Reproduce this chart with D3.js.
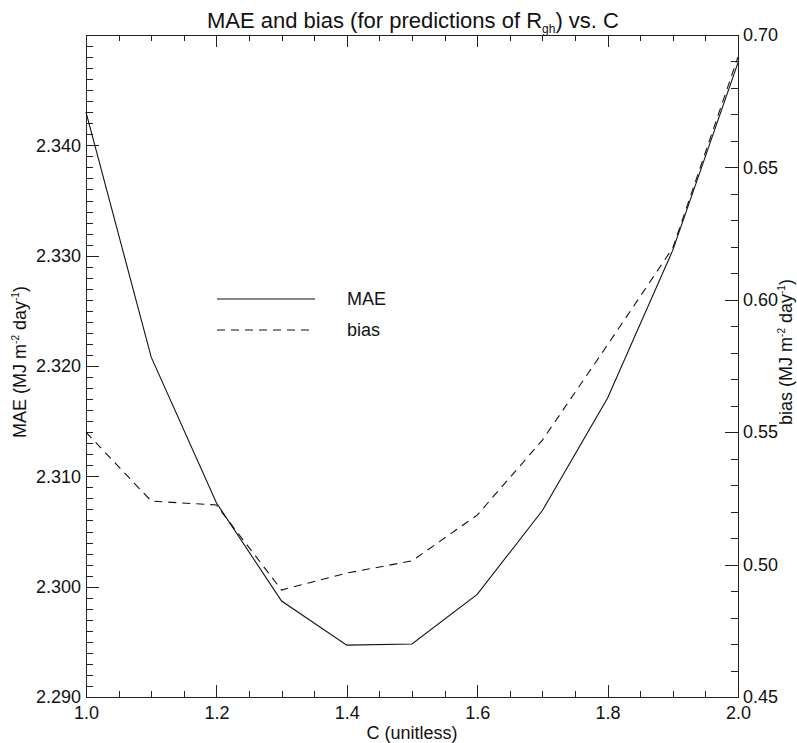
<!DOCTYPE html>
<html>
<head>
<meta charset="utf-8">
<script src="https://cdn.jsdelivr.net/npm/d3@7"></script>
<style>
  html, body { margin: 0; padding: 0; background: #fff; }
  svg { display: block; font-family: "Liberation Sans", Arial, Helvetica, sans-serif; }
  .axis path, .axis line { stroke: #222; stroke-width: 1; shape-rendering: crispEdges; }
  .axis text { font-size: 18px; fill: #111; }
</style>
</head>
<body>
<script>
// ---- data ----
const cValues = [1.0, 1.1, 1.2, 1.3, 1.4, 1.5, 1.6, 1.7, 1.8, 1.9, 2.0];
const maeValues = [2.3430, 2.3208, 2.3076, 2.2987, 2.2947, 2.2948, 2.2993, 2.3069, 2.3171, 2.3305, 2.3475];
const biasValues = [0.550, 0.524, 0.5225, 0.4904, 0.4968, 0.5014, 0.5187, 0.547, 0.583, 0.6196, 0.6917];
const xTicks = [1.0, 1.2, 1.4, 1.6, 1.8, 2.0];
const maeTicks = [2.290, 2.300, 2.310, 2.320, 2.330, 2.340];
const biasTicks = [0.45, 0.50, 0.55, 0.60, 0.65, 0.70];
const seriesNames = ["MAE", "bias"];

const W = 797, H = 743;
const pL = 86, pR = 738, pT = 35, pB = 697;

const svg = d3.select("body").append("svg").attr("width", W).attr("height", H);

const x = d3.scaleLinear().domain([1, 2]).range([pL, pR]);
const yL = d3.scaleLinear().domain([2.29, 2.35]).range([pB, pT]);
const yR = d3.scaleLinear().domain([0.45, 0.70]).range([pB, pT]);

const xMinor = d3.range(1.0, 2.0001, 0.05).map(v => +v.toFixed(2));
const yLMinor = d3.range(2.290, 2.3500001, 0.001).map(v => +v.toFixed(3)).filter(v => v < 2.35);
const yRMinor = d3.range(0.45, 0.70001, 0.01).map(v => +v.toFixed(2));

// bottom axis
svg.append("g").attr("class", "axis").attr("transform", `translate(0,${pB})`)
  .call(d3.axisBottom(x).tickValues(xMinor).tickSize(-6).tickFormat("")).call(g => g.select(".domain").remove());
svg.append("g").attr("class", "axis").attr("transform", `translate(0,${pB})`)
  .call(d3.axisBottom(x).tickValues(xTicks).tickSize(-12).tickPadding(9).tickSizeOuter(0).tickFormat(d3.format(".1f")));
// top axis
svg.append("g").attr("class", "axis").attr("transform", `translate(0,${pT})`)
  .call(d3.axisTop(x).tickValues(xMinor).tickSize(-6).tickFormat("")).call(g => g.select(".domain").remove());
svg.append("g").attr("class", "axis").attr("transform", `translate(0,${pT})`)
  .call(d3.axisTop(x).tickValues(xTicks).tickSize(-12).tickSizeOuter(0).tickFormat(""));
// left axis
svg.append("g").attr("class", "axis").attr("transform", `translate(${pL},0)`)
  .call(d3.axisLeft(yL).tickValues(yLMinor).tickSize(-7).tickFormat("")).call(g => g.select(".domain").remove());
svg.append("g").attr("class", "axis").attr("transform", `translate(${pL},0)`)
  .call(d3.axisLeft(yL).tickValues(maeTicks).tickSize(-13).tickPadding(5).tickSizeOuter(0).tickFormat(d3.format(".3f")));
// right axis
svg.append("g").attr("class", "axis").attr("transform", `translate(${pR},0)`)
  .call(d3.axisRight(yR).tickValues(yRMinor).tickSize(-7).tickFormat("")).call(g => g.select(".domain").remove());
svg.append("g").attr("class", "axis").attr("transform", `translate(${pR},0)`)
  .call(d3.axisRight(yR).tickValues(biasTicks).tickSize(-13).tickPadding(5).tickSizeOuter(0).tickFormat(d3.format(".2f")));

// lines
const maeLine = d3.line().x((d, i) => x(cValues[i])).y(d => yL(d));
const biasLine = d3.line().x((d, i) => x(cValues[i])).y(d => yR(d));
svg.append("path").datum(maeValues).attr("d", maeLine)
  .attr("fill", "none").attr("stroke", "#111").attr("stroke-width", 1.1);
svg.append("path").datum(biasValues).attr("d", biasLine)
  .attr("fill", "none").attr("stroke", "#111").attr("stroke-width", 1.1).attr("stroke-dasharray", "8,6");

// legend
const leg = svg.append("g");
[0, 1].forEach(i => {
  const ly = 299 + i * 31;
  leg.append("line").attr("x1", 217).attr("x2", i === 0 ? 315 : 309).attr("y1", ly).attr("y2", ly)
    .attr("stroke", "#111").attr("stroke-width", 1.1).attr("stroke-dasharray", i === 0 ? null : "8,6");
  leg.append("text").attr("x", 347).attr("y", ly + 6).attr("font-size", 18).attr("fill", "#111").text(seriesNames[i]);
});

// title
const title = svg.append("text").attr("x", 413).attr("y", 28)
  .attr("text-anchor", "middle").attr("font-size", 22).attr("fill", "#111");
title.append("tspan").text("MAE and bias (for predictions of R");
title.append("tspan").attr("font-size", 12).attr("dy", 5).text("gh");
title.append("tspan").attr("dy", -5).text(") vs. C");

// x label
svg.append("text").attr("x", (pL + pR) / 2).attr("y", 739).attr("text-anchor", "middle")
  .attr("font-size", 18).attr("fill", "#111").text("C (unitless)");

function unitLabel(sel, name) {
  sel.append("tspan").text(name + " (MJ m");
  sel.append("tspan").attr("font-size", 10).attr("dy", -7).text("-2");
  sel.append("tspan").attr("dy", 7).text(" day");
  sel.append("tspan").attr("font-size", 10).attr("dy", -7).text("-1");
  sel.append("tspan").attr("dy", 7).text(")");
}
const yl = svg.append("text").attr("transform", `translate(26,362) rotate(-90)`)
  .attr("text-anchor", "middle").attr("font-size", 18).attr("fill", "#111");
unitLabel(yl, "MAE");
const yr = svg.append("text").attr("transform", `translate(792,352) rotate(-90)`)
  .attr("text-anchor", "middle").attr("font-size", 18).attr("fill", "#111");
unitLabel(yr, "bias");
</script>
</body>
</html>
